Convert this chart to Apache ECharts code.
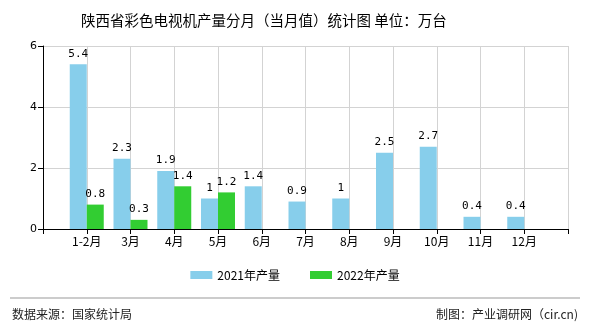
<!DOCTYPE html>
<html>
<head>
<meta charset="utf-8">
<script src="https://cdn.jsdelivr.net/npm/echarts@6/dist/echarts.min.js"></script>
<style>
  html, body { margin: 0; padding: 0; background: #fff; }
  #chart { width: 590px; height: 330px; }
</style>
</head>
<body>
<div id="chart"></div>
<script>
// Monthly colour-TV output, Shaanxi (10k units)
const months = ['1-2月', '3月', '4月', '5月', '6月', '7月', '8月', '9月', '10月', '11月', '12月'];
const output2021 = [5.4, 2.3, 1.9, 1, 1.4, 0.9, 1, 2.5, 2.7, 0.4, 0.4];
const output2022 = [0.8, 0.3, 1.4, 1.2, null, null, null, null, null, null, null];
const yTicks = [0, 2, 4, 6];

// Pad the axis with an empty slot at each end so the months sit on grid lines
const axisCats = [''].concat(months, ['']);
const pad = arr => [null].concat(arr, [null]);

const chart = echarts.init(document.getElementById('chart'));
const labelStyle = {
  show: true,
  position: 'top',
  color: '#000',
  fontFamily: 'DejaVu Sans Mono',
  fontSize: 11,
  formatter: p => (p.value == null ? '' : String(p.value))
};

chart.setOption({
  animation: false,
  title: {
    text: '陕西省彩色电视机产量分月（当月值）统计图 单位：万台',
    left: 76,
    top: 8,
    textStyle: { fontFamily: 'Noto Sans CJK SC', fontSize: 14.5, fontWeight: 'normal', color: '#000' }
  },
  legend: {
    bottom: 44,
    left: 'center',
    icon: 'rect',
    itemWidth: 22,
    itemHeight: 8,
    itemGap: 30,
    textStyle: { fontFamily: 'Noto Sans CJK SC', fontSize: 12, color: '#000' },
    data: ['2021年产量', '2022年产量']
  },
  grid: { left: 43, right: 22, top: 46, bottom: 101 },
  xAxis: {
    type: 'category',
    data: axisCats,
    boundaryGap: false,
    axisLine: { lineStyle: { color: '#000' } },
    axisTick: { show: true, lineStyle: { color: '#000' } },
    axisLabel: { color: '#000', fontFamily: 'Noto Sans CJK SC', fontSize: 12, interval: 0, margin: 6 },
    splitLine: { show: true, lineStyle: { color: '#d3d3d3' } }
  },
  yAxis: {
    type: 'value',
    min: yTicks[0],
    max: yTicks[yTicks.length - 1],
    interval: 2,
    axisLine: { show: true, lineStyle: { color: '#000' } },
    axisTick: { show: true, lineStyle: { color: '#000' } },
    axisLabel: { color: '#000', fontFamily: 'DejaVu Sans', fontSize: 11, margin: 6 },
    splitLine: { lineStyle: { color: '#d3d3d3' } }
  },
  series: [
    {
      name: '2021年产量',
      type: 'bar',
      data: pad(output2021),
      barWidth: 17,
      barGap: '0%',
      itemStyle: { color: '#87CEEB' },
      label: labelStyle
    },
    {
      name: '2022年产量',
      type: 'bar',
      data: pad(output2022),
      barWidth: 17,
      barGap: '0%',
      itemStyle: { color: '#32CD32' },
      label: labelStyle
    }
  ],
  graphic: [
    { type: 'line', shape: { x1: 10, y1: 298, x2: 580, y2: 298 }, style: { stroke: '#999', lineWidth: 1 } },
    { type: 'text', left: 12, top: 308, style: { text: '数据来源：国家统计局', font: '12px "Noto Sans CJK SC"', fill: '#222' } },
    { type: 'text', right: 12, top: 308, style: { text: '制图：产业调研网（cir.cn)', font: '12px "Noto Sans CJK SC"', fill: '#222' } }
  ]
});
</script>
</body>
</html>
